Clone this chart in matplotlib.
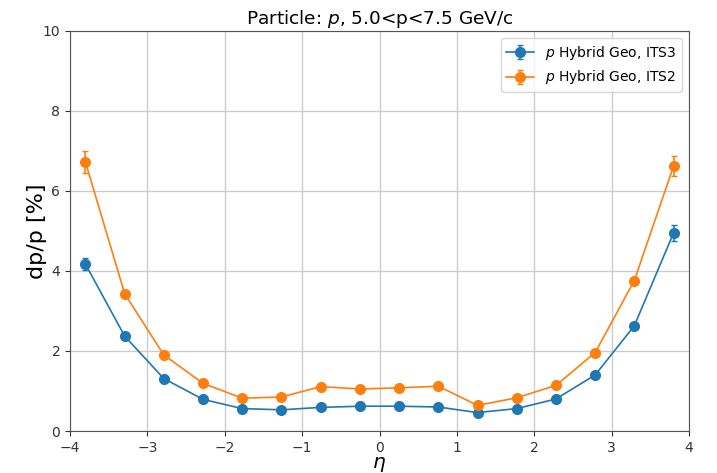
import numpy as np
import matplotlib
matplotlib.use("Agg")
import matplotlib.pyplot as plt

# Pseudorapidity bin centres
eta = [-3.8, -3.293, -2.787, -2.28, -1.773, -1.267, -0.76, -0.253,
       0.253, 0.76, 1.267, 1.773, 2.28, 2.787, 3.293, 3.8]

# Momentum resolution dp/p [%] for protons, 5.0 < p < 7.5 GeV/c
res_its3 = [4.17, 2.37, 1.31, 0.79, 0.56, 0.53, 0.59, 0.62,
            0.62, 0.60, 0.46, 0.56, 0.80, 1.40, 2.63, 4.95]
err_its3 = [0.15, 0.06, 0.03, 0.02, 0.02, 0.02, 0.02, 0.02,
            0.02, 0.02, 0.02, 0.02, 0.02, 0.04, 0.07, 0.20]

res_its2 = [6.72, 3.43, 1.90, 1.19, 0.82, 0.85, 1.11, 1.05,
            1.08, 1.12, 0.64, 0.83, 1.14, 1.96, 3.76, 6.62]
err_its2 = [0.27, 0.08, 0.04, 0.03, 0.02, 0.02, 0.03, 0.03,
            0.03, 0.03, 0.02, 0.02, 0.03, 0.05, 0.09, 0.25]

labels = [r"$p$ Hybrid Geo, ITS3", r"$p$ Hybrid Geo, ITS2"]

fig = plt.figure(figsize=(7.17, 4.73), dpi=100)
ax = fig.add_axes([70 / 717, 42 / 473, 619 / 717, 400 / 473])

ax.errorbar(eta, res_its3, yerr=err_its3, marker="o", markersize=7,
            linewidth=1.2, capsize=2, color="#1f77b4", label=labels[0])
ax.errorbar(eta, res_its2, yerr=err_its2, marker="o", markersize=7,
            linewidth=1.2, capsize=2, color="#ff7f0e", label=labels[1])

ax.set_xlim(-4, 4)
ax.set_ylim(0, 10)
ax.set_xticks(range(-4, 5))
ax.set_yticks(range(0, 11, 2))
ax.grid(True, color="#cccccc", linewidth=1)
ax.tick_params(labelsize=10, colors="#333333")
for s in ax.spines.values():
    s.set_color("#555555")

ax.set_xlabel(r"$\eta$", fontsize=14.5, labelpad=0)
ax.set_ylabel("dp/p [%]", fontsize=16, labelpad=-3)
ax.set_title(r"Particle: $p$, 5.0<p<7.5 GeV/c", fontsize=13.3, pad=5)
ax.legend(loc="upper right", fontsize=10)

fig.savefig("out.png", dpi=100)
